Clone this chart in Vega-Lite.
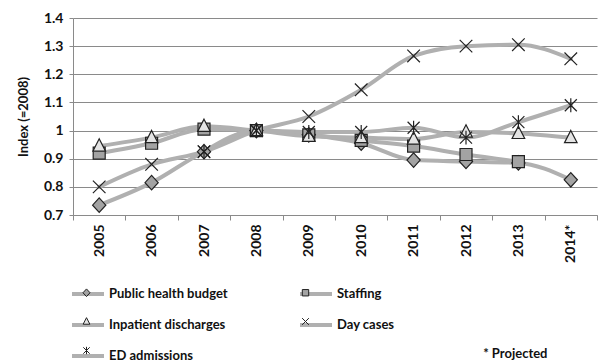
{
  "$schema": "https://vega.github.io/schema/vega-lite/v6.json",
  "autosize": "none",
  "width": 524,
  "height": 197,
  "padding": {"left": 73, "top": 18, "right": 5, "bottom": 146},
  "background": "#ffffff",
  "config": {
    "font": "Lato",
    "view": {"stroke": null},
    "axis": {"labelFont": "Lato", "titleFont": "Lato", "labelFontWeight": "bold", "titleFontWeight": "bold", "labelColor": "#111111", "titleColor": "#111111"}
  },
  "title": {
    "text": "* Projected",
    "orient": "bottom",
    "anchor": "end",
    "offset": -16,
    "dx": -50,
    "font": "Lato",
    "fontSize": 13,
    "fontWeight": "bold",
    "color": "#111111"
  },
  "data": {
    "values": [
      {"year": "2005", "series": "Public health budget", "value": 0.735},
      {"year": "2006", "series": "Public health budget", "value": 0.815},
      {"year": "2007", "series": "Public health budget", "value": 0.925},
      {"year": "2008", "series": "Public health budget", "value": 1.0},
      {"year": "2009", "series": "Public health budget", "value": 0.985},
      {"year": "2010", "series": "Public health budget", "value": 0.955},
      {"year": "2011", "series": "Public health budget", "value": 0.895},
      {"year": "2012", "series": "Public health budget", "value": 0.89},
      {"year": "2013", "series": "Public health budget", "value": 0.885},
      {"year": "2014*", "series": "Public health budget", "value": 0.825},
      {"year": "2005", "series": "Staffing", "value": 0.92},
      {"year": "2006", "series": "Staffing", "value": 0.955},
      {"year": "2007", "series": "Staffing", "value": 1.005},
      {"year": "2008", "series": "Staffing", "value": 1.0},
      {"year": "2009", "series": "Staffing", "value": 0.985},
      {"year": "2010", "series": "Staffing", "value": 0.965},
      {"year": "2011", "series": "Staffing", "value": 0.945},
      {"year": "2012", "series": "Staffing", "value": 0.915},
      {"year": "2013", "series": "Staffing", "value": 0.89},
      {"year": "2005", "series": "Inpatient discharges", "value": 0.945},
      {"year": "2006", "series": "Inpatient discharges", "value": 0.975},
      {"year": "2007", "series": "Inpatient discharges", "value": 1.015},
      {"year": "2008", "series": "Inpatient discharges", "value": 1.0},
      {"year": "2009", "series": "Inpatient discharges", "value": 0.98},
      {"year": "2010", "series": "Inpatient discharges", "value": 0.975},
      {"year": "2011", "series": "Inpatient discharges", "value": 0.97},
      {"year": "2012", "series": "Inpatient discharges", "value": 0.995},
      {"year": "2013", "series": "Inpatient discharges", "value": 0.99},
      {"year": "2014*", "series": "Inpatient discharges", "value": 0.975},
      {"year": "2005", "series": "Day cases", "value": 0.80},
      {"year": "2006", "series": "Day cases", "value": 0.88},
      {"year": "2007", "series": "Day cases", "value": 0.925},
      {"year": "2008", "series": "Day cases", "value": 1.0},
      {"year": "2009", "series": "Day cases", "value": 1.05},
      {"year": "2010", "series": "Day cases", "value": 1.145},
      {"year": "2011", "series": "Day cases", "value": 1.265},
      {"year": "2012", "series": "Day cases", "value": 1.30},
      {"year": "2013", "series": "Day cases", "value": 1.305},
      {"year": "2014*", "series": "Day cases", "value": 1.255},
      {"year": "2007", "series": "ED admissions", "value": 0.925},
      {"year": "2008", "series": "ED admissions", "value": 1.0},
      {"year": "2009", "series": "ED admissions", "value": 0.995},
      {"year": "2010", "series": "ED admissions", "value": 0.995},
      {"year": "2011", "series": "ED admissions", "value": 1.01},
      {"year": "2012", "series": "ED admissions", "value": 0.975},
      {"year": "2013", "series": "ED admissions", "value": 1.03},
      {"year": "2014*", "series": "ED admissions", "value": 1.09}
    ]
  },
  "encoding": {
    "x": {
      "field": "year",
      "type": "nominal",
      "sort": null,
      "scale": {"type": "band", "paddingInner": 0, "paddingOuter": 0},
      "axis": {
        "title": null,
        "labelAngle": 270,
        "labelFontSize": 14,
        "labelPadding": 4,
        "tickBand": "extent",
        "tickSize": 5,
        "tickColor": "#8a8a8a",
        "domainColor": "#8a8a8a",
        "grid": false
      }
    },
    "y": {
      "field": "value",
      "type": "quantitative",
      "scale": {"domain": [0.7, 1.4], "nice": false, "zero": false},
      "axis": {
        "title": "Index (=2008)",
        "titleFontSize": 13,
        "titlePadding": 13,
        "labelFontSize": 14,
        "labelPadding": 6,
        "values": [0.7, 0.8, 0.9, 1.0, 1.1, 1.2, 1.3, 1.4],
        "format": ".1~f",
        "tickSize": 4,
        "tickColor": "#8a8a8a",
        "domainColor": "#8a8a8a",
        "gridColor": "#8a8a8a",
        "gridWidth": 1
      }
    }
  },
  "layer": [
    {
      "mark": {"type": "line", "interpolate": "monotone", "strokeWidth": 4, "strokeCap": "round"},
      "encoding": {
        "color": {
          "field": "series",
          "type": "nominal",
          "sort": ["Public health budget", "Staffing", "Inpatient discharges", "Day cases", "ED admissions"],
          "scale": {"range": ["#b0b0b0", "#b0b0b0", "#b0b0b0", "#b0b0b0", "#b0b0b0"]},
          "legend": {
            "title": null,
            "orient": "none",
            "legendX": -3,
            "legendY": 258,
            "direction": "horizontal",
            "columns": 2,
            "columnPadding": 64,
            "rowPadding": 5,
            "symbolType": "stroke",
            "symbolSize": 1024,
            "symbolStrokeWidth": 4,
            "labelFont": "Lato",
            "labelFontSize": 13,
            "labelFontWeight": "bold",
            "labelColor": "#111111",
            "labelOffset": 3,
            "labelLimit": 300
          }
        }
      }
    },
    {
      "mark": {"type": "point", "filled": true, "size": 3600, "stroke": "#222222", "strokeWidth": 1.2, "opacity": 1},
      "encoding": {
        "shape": {
          "field": "series",
          "type": "nominal",
          "scale": {
            "domain": ["Public health budget", "Staffing", "Inpatient discharges", "Day cases", "ED admissions"],
            "range": [
              "M0,-0.24L0.22,0L0,0.24L-0.22,0Z",
              "M-0.2,-0.2H0.2V0.2H-0.2Z",
              "M0,-0.24L0.21,0.17H-0.21Z",
              "M-0.21,-0.21L0.21,0.21M-0.21,0.21L0.21,-0.21",
              "M-0.2,-0.2L0.2,0.2M-0.2,0.2L0.2,-0.2M0,-0.23V0.23"
            ]
          },
          "legend": {
            "title": null,
            "orient": "none",
            "legendX": -3,
            "legendY": 258,
            "zindex": 2,
            "direction": "horizontal",
            "columns": 2,
            "columnPadding": 64,
            "rowPadding": 5,
            "symbolSize": 1024,
            "symbolStrokeWidth": 1,
            "symbolStrokeColor": "#222222",
            "symbolFillColor": "#ffffff",
            "labelFont": "Lato",
            "labelFontSize": 13,
            "labelFontWeight": "bold",
            "labelOpacity": 0,
            "labelOffset": 3,
            "labelLimit": 300
          }
        },
        "fill": {
          "field": "series",
          "type": "nominal",
          "scale": {
            "domain": ["Public health budget", "Staffing", "Inpatient discharges", "Day cases", "ED admissions"],
            "range": ["#a3a3a3", "#a3a3a3", "#e4e4e4", "#a3a3a3", "#a3a3a3"]
          },
          "legend": null
        }
      }
    }
  ]
}
